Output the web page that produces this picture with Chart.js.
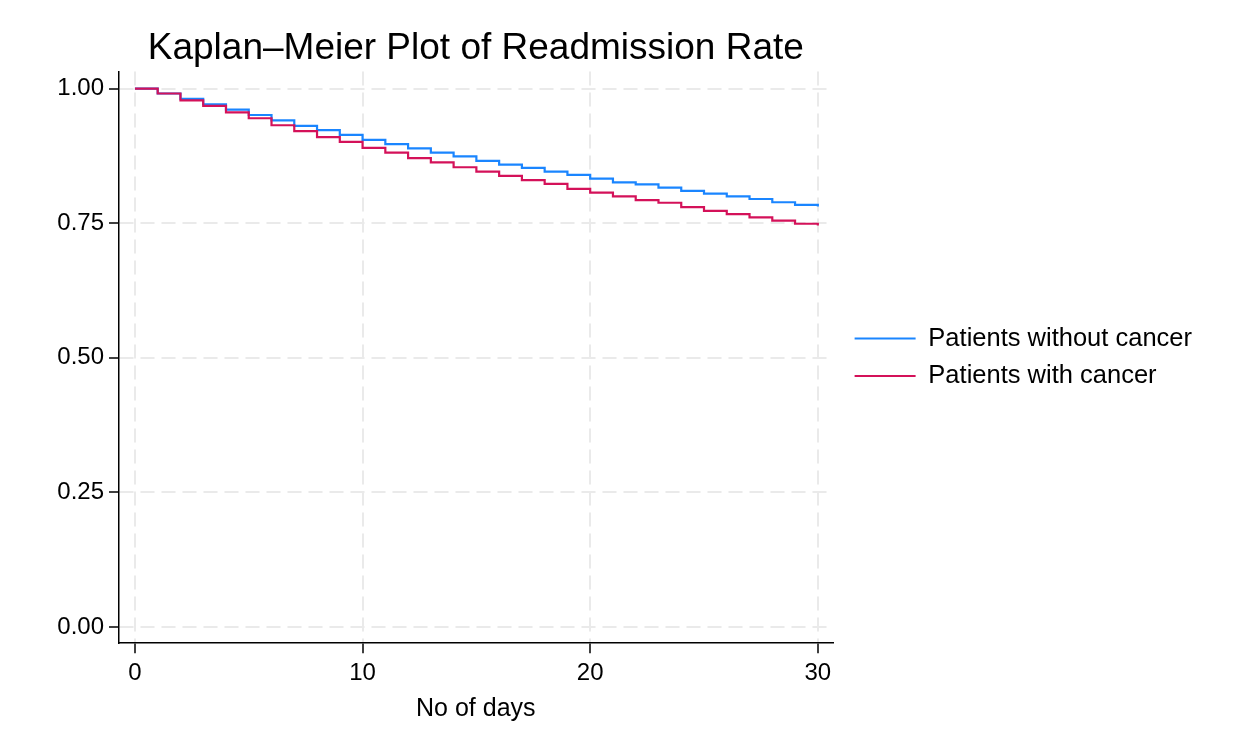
<!DOCTYPE html>
<html>
<head>
<meta charset="utf-8">
<script src="https://cdn.jsdelivr.net/npm/chart.js@4/dist/chart.umd.min.js"></script>
<style>
  html, body { margin: 0; padding: 0; background: #fff; }
  #wrap { width: 1256px; height: 753px; }
</style>
</head>
<body>
<div id="wrap"><canvas id="c" width="1256" height="753"></canvas></div>
<script>
const days = [0,1,2,3,4,5,6,7,8,9,10,11,12,13,14,15,16,17,18,19,20,21,22,23,24,25,26,27,28,29,30];
const withoutCancer = [1.000,0.991,0.981,0.971,0.961,0.951,0.941,0.931,0.923,0.914,0.905,0.897,0.889,0.881,0.874,0.866,0.859,0.853,0.846,0.840,0.833,0.826,0.822,0.816,0.810,0.805,0.800,0.795,0.789,0.784,0.781];
const withCancer = [1.000,0.991,0.978,0.968,0.956,0.945,0.932,0.921,0.910,0.901,0.890,0.881,0.871,0.863,0.854,0.846,0.838,0.830,0.823,0.814,0.807,0.800,0.793,0.788,0.780,0.773,0.767,0.761,0.755,0.749,0.746];
const seriesLabels = ['Patients without cancer', 'Patients with cancer'];
const xTicks = [0, 10, 20, 30];
const yTicks = [0, 0.25, 0.5, 0.75, 1.0];
const titleText = 'Kaplan\u2013Meier Plot of Readmission Rate';
const xTitle = 'No of days';

const FONT = "'Liberation Sans', Arial, Helvetica, sans-serif";
const BLUE = '#1a85ff';
const RED = '#d41159';

function pts(arr) { return days.map((d, i) => ({ x: d, y: arr[i] })); }

const gridOpts = {
  color: '#eaeaea',
  lineWidth: 2,
  tickLength: 10,
  tickColor: '#000',
  tickWidth: 1.5,
  tickBorderDash: [],
  drawOnChartArea: true
};
const borderOpts = { display: true, color: '#000', width: 1.5, dash: [14, 7] };

new Chart(document.getElementById('c'), {
  type: 'line',
  data: {
    datasets: [
      { label: seriesLabels[0], data: pts(withoutCancer), borderColor: BLUE, backgroundColor: BLUE,
        borderWidth: 2.2, stepped: 'before', pointRadius: 0, fill: false, order: 1 },
      { label: seriesLabels[1], data: pts(withCancer), borderColor: RED, backgroundColor: RED,
        borderWidth: 2.2, stepped: 'before', pointRadius: 0, fill: false, order: 0 }
    ]
  },
  options: {
    responsive: false,
    animation: false,
    devicePixelRatio: 1,
    layout: { padding: { left: 0, right: 54, top: 0, bottom: 29 } },
    plugins: {
      title: {
        display: true, text: titleText, fullSize: false, color: '#000',
        font: { family: FONT, size: 37, weight: 'normal' },
        padding: { top: 27, bottom: 0 }
      },
      legend: {
        position: 'right',
        fullSize: false,
        maxWidth: 420,
        labels: {
          font: { family: FONT, size: 25.5 },
          color: '#000',
          boxWidth: 61,
          boxHeight: 2,
          padding: 12,
          sort: (a, b) => a.datasetIndex - b.datasetIndex,
          generateLabels: (chart) => chart.data.datasets.map((ds, i) => ({
            text: ds.label, fillStyle: ds.borderColor, strokeStyle: ds.borderColor,
            lineWidth: 0, hidden: false, datasetIndex: i
          }))
        }
      },
      tooltip: { enabled: false }
    },
    scales: {
      x: {
        type: 'linear', min: -0.7, max: 30.65,
        afterBuildTicks: (s) => { s.ticks = xTicks.map(v => ({ value: v })); },
        ticks: { font: { family: FONT, size: 24 }, color: '#000', padding: 6, maxRotation: 0, autoSkip: false },
        grid: gridOpts,
        border: borderOpts,
        title: { display: true, text: xTitle, color: '#000', font: { family: FONT, size: 25 }, padding: { top: 0, bottom: 0 } }
      },
      y: {
        type: 'linear', min: -0.03, max: 1.032,
        afterBuildTicks: (s) => { s.ticks = yTicks.map(v => ({ value: v })); },
        afterFit: (s) => { s.width = 119; },
        ticks: { font: { family: FONT, size: 24 }, color: '#000', padding: 5, callback: (v) => Number(v).toFixed(2) },
        grid: gridOpts,
        border: borderOpts
      },
      gap: {
        type: 'linear', position: 'right', display: true,
        afterFit: (s) => { s.width = 10; },
        ticks: { display: false },
        grid: { display: false, drawTicks: false },
        border: { display: false }
      }
    }
  }
});
</script>
</body>
</html>
